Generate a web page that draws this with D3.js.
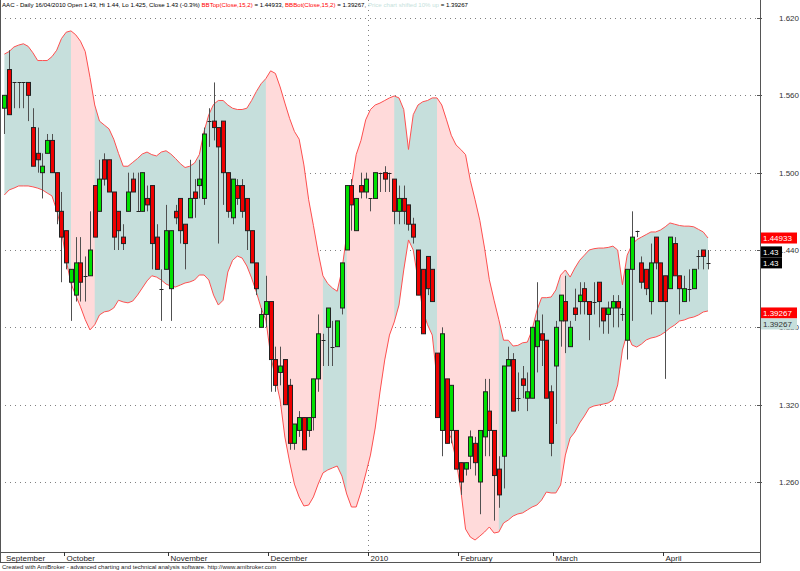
<!DOCTYPE html>
<html><head><meta charset="utf-8">
<script src="https://cdn.jsdelivr.net/npm/d3@7/dist/d3.min.js"></script>
<style>body{margin:0;background:#fff}svg{display:block}text{font-family:Arial,"Liberation Sans",sans-serif}</style>
</head><body><svg id="c" width="800" height="571"></svg>
<script>
const openP=[1.55,1.58,1.57,1.57,1.57,1.57,1.535,1.515,1.50,1.515,1.525,1.50,1.47,1.455,1.415,1.405,1.43,1.42,1.42,1.49,1.47,1.51,1.51,1.485,1.47,1.45,1.47,1.495,1.47,1.47,1.48,1.49,1.45,1.41,1.425,1.41,1.47,1.48,1.46,1.465,1.485,1.49,1.48,1.54,1.54,1.535,1.54,1.50,1.465,1.49,1.49,1.48,1.455,1.43,1.38,1.39,1.40,1.355,1.345,1.355,1.335,1.29,1.30,1.31,1.30,1.31,1.34,1.37,1.38,1.365,1.365,1.395,1.44,1.49,1.455,1.49,1.485,1.48,1.48,1.50,1.50,1.50,1.495,1.47,1.48,1.475,1.46,1.44,1.425,1.435,1.425,1.36,1.30,1.34,1.30,1.30,1.275,1.27,1.28,1.29,1.26,1.295,1.315,1.30,1.27,1.28,1.35,1.355,1.325,1.34,1.325,1.325,1.365,1.375,1.37,1.33,1.35,1.385,1.40,1.365,1.395,1.40,1.41,1.40,1.40,1.415,1.395,1.39,1.395,1.40,1.39,1.37,1.425,1.455,1.43,1.425,1.40,1.45,1.43,1.42,1.41,1.445,1.42,1.40,1.41,1.41,1.435,1.44,1.43];
const highP=[1.56,1.595,1.57,1.57,1.57,1.57,1.55,1.535,1.515,1.53,1.53,1.50,1.485,1.455,1.425,1.45,1.45,1.435,1.47,1.49,1.51,1.515,1.51,1.485,1.47,1.46,1.50,1.50,1.50,1.50,1.49,1.49,1.46,1.425,1.475,1.455,1.475,1.48,1.46,1.51,1.495,1.51,1.535,1.55,1.57,1.535,1.54,1.50,1.495,1.495,1.495,1.48,1.455,1.43,1.395,1.42,1.40,1.365,1.365,1.355,1.34,1.305,1.315,1.31,1.31,1.34,1.39,1.375,1.395,1.385,1.385,1.43,1.49,1.495,1.48,1.50,1.50,1.48,1.50,1.50,1.505,1.50,1.495,1.49,1.49,1.475,1.465,1.44,1.425,1.435,1.425,1.36,1.38,1.34,1.335,1.30,1.275,1.275,1.30,1.295,1.30,1.34,1.34,1.30,1.28,1.35,1.365,1.36,1.345,1.35,1.345,1.38,1.415,1.39,1.37,1.335,1.385,1.405,1.42,1.385,1.41,1.415,1.415,1.40,1.415,1.415,1.395,1.40,1.405,1.405,1.395,1.425,1.47,1.455,1.435,1.425,1.445,1.45,1.43,1.42,1.45,1.45,1.42,1.42,1.425,1.425,1.44,1.44,1.44];
const lowP=[1.53,1.545,1.55,1.55,1.55,1.54,1.505,1.50,1.48,1.515,1.50,1.46,1.415,1.425,1.385,1.40,1.40,1.40,1.42,1.45,1.47,1.49,1.485,1.44,1.44,1.44,1.47,1.485,1.47,1.47,1.47,1.425,1.425,1.385,1.425,1.385,1.46,1.445,1.425,1.465,1.465,1.48,1.475,1.52,1.525,1.445,1.475,1.465,1.46,1.475,1.465,1.44,1.43,1.405,1.38,1.38,1.33,1.33,1.335,1.32,1.285,1.285,1.295,1.285,1.295,1.30,1.33,1.35,1.35,1.35,1.365,1.39,1.44,1.455,1.455,1.48,1.48,1.47,1.48,1.485,1.485,1.485,1.46,1.46,1.46,1.455,1.445,1.405,1.375,1.405,1.40,1.31,1.28,1.29,1.29,1.27,1.25,1.265,1.27,1.265,1.235,1.28,1.28,1.23,1.24,1.255,1.35,1.315,1.315,1.325,1.315,1.325,1.345,1.35,1.325,1.28,1.305,1.365,1.36,1.365,1.385,1.39,1.39,1.37,1.39,1.38,1.375,1.375,1.38,1.38,1.385,1.355,1.385,1.45,1.41,1.405,1.39,1.425,1.40,1.34,1.41,1.42,1.39,1.40,1.40,1.41,1.425,1.425,1.425];
const closeP=[1.56,1.545,1.57,1.57,1.57,1.56,1.505,1.51,1.505,1.525,1.50,1.47,1.45,1.43,1.425,1.43,1.415,1.42,1.44,1.45,1.495,1.495,1.485,1.45,1.455,1.445,1.485,1.485,1.47,1.50,1.475,1.445,1.425,1.41,1.455,1.455,1.465,1.455,1.445,1.48,1.48,1.495,1.53,1.54,1.535,1.52,1.50,1.47,1.495,1.48,1.47,1.455,1.43,1.41,1.39,1.40,1.355,1.335,1.35,1.32,1.29,1.305,1.31,1.285,1.31,1.34,1.375,1.37,1.395,1.365,1.385,1.43,1.49,1.475,1.48,1.485,1.495,1.48,1.50,1.50,1.495,1.50,1.47,1.48,1.47,1.46,1.45,1.405,1.375,1.41,1.40,1.31,1.375,1.29,1.335,1.27,1.26,1.275,1.295,1.275,1.30,1.33,1.30,1.265,1.25,1.35,1.355,1.315,1.325,1.335,1.33,1.38,1.385,1.37,1.325,1.29,1.38,1.405,1.385,1.38,1.39,1.405,1.40,1.39,1.40,1.40,1.385,1.395,1.40,1.395,1.39,1.425,1.45,1.455,1.415,1.41,1.43,1.43,1.40,1.40,1.45,1.42,1.41,1.41,1.41,1.425,1.435,1.435,1.43];
const bbTop=[1.592,1.594,1.5975,1.599,1.600,1.598,1.593,1.587,1.587,1.587,1.590,1.595,1.604,1.609,1.610,1.607,1.602,1.594,1.574,1.5525,1.540,1.537,1.534,1.526,1.515,1.505,1.505,1.508,1.511,1.5145,1.516,1.514,1.513,1.516,1.517,1.5145,1.511,1.507,1.504,1.505,1.5075,1.514,1.532,1.545,1.553,1.556,1.556,1.5525,1.550,1.549,1.549,1.550,1.556,1.563,1.569,1.573,1.579,1.577,1.5665,1.554,1.542,1.532,1.526,1.506,1.479,1.459,1.438,1.420,1.414,1.4105,1.408,1.4245,1.452,1.490,1.514,1.525,1.541,1.549,1.5525,1.554,1.556,1.558,1.5595,1.558,1.549,1.518,1.545,1.5525,1.555,1.556,1.558,1.558,1.5525,1.541,1.529,1.5215,1.518,1.514,1.494,1.479,1.463,1.4415,1.417,1.401,1.386,1.370,1.370,1.3655,1.366,1.368,1.3685,1.378,1.393,1.403,1.403,1.4035,1.409,1.4205,1.4245,1.419,1.426,1.432,1.436,1.440,1.441,1.4415,1.4415,1.442,1.443,1.440,1.413,1.436,1.444,1.448,1.450,1.452,1.454,1.454,1.4555,1.458,1.461,1.460,1.459,1.4585,1.4585,1.458,1.456,1.454,1.4493];
const bbBot=[1.4827,1.4866,1.488,1.4897,1.4897,1.4897,1.489,1.488,1.4866,1.4842,1.482,1.471,1.4555,1.432,1.414,1.405,1.396,1.386,1.378,1.382,1.3896,1.392,1.3927,1.395,1.401,1.3997,1.399,1.4004,1.405,1.4105,1.416,1.420,1.419,1.4167,1.4136,1.412,1.4113,1.4128,1.4144,1.4152,1.4167,1.4206,1.4206,1.4167,1.405,1.3973,1.401,1.4229,1.432,1.4353,1.4338,1.4276,1.4183,1.4074,1.395,1.3857,1.3585,1.3407,1.3236,1.2949,1.2755,1.2584,1.2484,1.2414,1.2421,1.2484,1.2584,1.267,1.2693,1.2709,1.2724,1.2646,1.2507,1.2406,1.2406,1.2522,1.2662,1.2809,1.3019,1.3298,1.3547,1.374,1.3841,1.3973,1.4245,1.4478,1.44,1.4167,1.3934,1.382,1.374,1.3391,1.3081,1.3003,1.2941,1.2771,1.2538,1.2235,1.2173,1.215,1.218,1.2212,1.2251,1.2204,1.2212,1.2282,1.2305,1.2336,1.2352,1.236,1.2383,1.2406,1.2421,1.246,1.2522,1.2515,1.2515,1.2577,1.2809,1.2941,1.2988,1.3058,1.3112,1.3174,1.319,1.3197,1.3205,1.3213,1.3236,1.3353,1.3624,1.3756,1.3663,1.3647,1.367,1.3702,1.3717,1.3725,1.374,1.3764,1.3795,1.3818,1.3849,1.3857,1.3872,1.388,1.3896,1.3919,1.3927];
const pinkRanges=[[14,19],[55,67],[72,82],[91,104],[117,118]];
const monthLabels=["September","October","November","December","2010","February","March","April"];
const monthStart=[0,13,35,56,77,96,116,139];
const yTicks=[1.26,1.32,1.38,1.44,1.50,1.56,1.62];

const svg=d3.select("#c");
svg.append("rect").attr("width",800).attr("height",571).attr("fill","#fff");
const R=760,B=552;
const n=closeP.length;
const x=d3.scaleLinear().domain([0,n-1]).range([4.4,708]);
const y=d3.scaleLinear().domain([1.44-302/1288.9,1.44+250/1288.9]).range([B,0]);
const bars=d3.range(n).map(i=>({i,o:openP[i],h:highP[i],l:lowP[i],c:closeP[i],u:bbTop[i],d:bbBot[i]}));

// grid
svg.append("g").selectAll("line").data(yTicks).join("line")
 .attr("x1",0).attr("x2",R-3).attr("y1",d=>Math.round(y(d))+0.5).attr("y2",d=>Math.round(y(d))+0.5)
 .attr("stroke","#808080").attr("stroke-dasharray","1,4");
const yearX=Math.round(x(monthStart[4])-2)+0.5;
svg.append("line").attr("x1",yearX).attr("x2",yearX).attr("y1",0).attr("y2",B)
 .attr("stroke","#808080").attr("stroke-dasharray","1,4");

// bands
const area=d3.area().x(d=>x(d.i)).y0(d=>y(d.d)).y1(d=>y(d.u));
svg.append("path").datum(bars).attr("d",area).attr("fill","#c6dfdc");
const defs=svg.append("defs");
const cp=defs.append("clipPath").attr("id","pk");
cp.selectAll("rect").data(pinkRanges).join("rect")
 .attr("x",d=>x(d[0])).attr("width",d=>x(d[1])-x(d[0])).attr("y",0).attr("height",B);
svg.append("path").datum(bars).attr("d",area).attr("fill","#ffdada").attr("clip-path","url(#pk)");
svg.append("path").datum(bars).attr("d",d3.line().x(d=>x(d.i)).y(d=>y(d.u))).attr("fill","none").attr("stroke","#ff5050").attr("stroke-width",1);
svg.append("path").datum(bars).attr("d",d3.line().x(d=>x(d.i)).y(d=>y(d.d))).attr("fill","none").attr("stroke","#ff5050").attr("stroke-width",1);

// candles
const cg=svg.append("g");
cg.selectAll("line.w").data(bars).join("line").attr("class","w")
 .attr("x1",d=>Math.round(x(d.i))+0.5).attr("x2",d=>Math.round(x(d.i))+0.5)
 .attr("y1",d=>y(d.h)).attr("y2",d=>y(d.l)).attr("stroke","#505050").attr("stroke-width",1);
cg.selectAll("rect.b").data(bars.filter(d=>d.o!==d.c)).join("rect").attr("class","b")
 .attr("x",d=>Math.round(x(d.i))-1.5).attr("width",4)
 .attr("y",d=>y(Math.max(d.o,d.c))).attr("height",d=>Math.max(1,y(Math.min(d.o,d.c))-y(Math.max(d.o,d.c))))
 .attr("fill",d=>d.c>d.o?"#00e000":"#ee0000").attr("stroke","#222").attr("stroke-width",1);
cg.selectAll("line.dj").data(bars.filter(d=>d.o===d.c)).join("line").attr("class","dj")
 .attr("x1",d=>Math.round(x(d.i))-1.5).attr("x2",d=>Math.round(x(d.i))+2.5)
 .attr("y1",d=>Math.round(y(d.c))+0.5).attr("y2",d=>Math.round(y(d.c))+0.5).attr("stroke","#222");

// frame
svg.append("line").attr("x1",0.5).attr("x2",0.5).attr("y1",0).attr("y2",563).attr("stroke","#555");
svg.append("line").attr("x1",R+0.5).attr("x2",R+0.5).attr("y1",0).attr("y2",563).attr("stroke","#555");
svg.append("line").attr("x1",0).attr("x2",R).attr("y1",B+0.5).attr("y2",B+0.5).attr("stroke","#555");
svg.append("line").attr("x1",0).attr("x2",R).attr("y1",562.5).attr("y2",562.5).attr("stroke","#555");

// y axis
const ya=svg.append("g").attr("transform",`translate(${R},0)`);
ya.selectAll("line").data(yTicks).join("line").attr("x1",-3).attr("x2",2)
 .attr("y1",d=>Math.round(y(d))+0.5).attr("y2",d=>Math.round(y(d))+0.5).attr("stroke","#555");
ya.selectAll("text").data(yTicks).join("text").attr("x",19).attr("y",d=>y(d)+3)
 .attr("font-size",8).attr("fill","#333").text(d=>d.toFixed(3));

// value labels
const lab=[{v:bbTop[n-1],t:"1.44933",bg:"#ff0000",fg:"#fff",dy:0},
 {v:closeP[n-1],t:"1.43",bg:"#000",fg:"#fff",dy:-11},
 {v:closeP[n-1],t:"1.43",bg:"#000",fg:"#fff",dy:0},
 {v:bbBot[n-1],t:"1.39267",bg:"#ff0000",fg:"#fff",dy:2},
 {v:bbBot[n-1],t:"1.39267",bg:"#c6dfdc",fg:"#333",dy:13}];
const lg=svg.append("g");
lab.forEach(d=>{
 const w=d.t.length>4?36:21, cy=y(d.v)+d.dy;
 lg.append("rect").attr("x",R+1).attr("y",cy-5.5).attr("width",w).attr("height",11).attr("fill",d.bg);
 lg.append("text").attr("x",R+3).attr("y",cy+3).attr("font-size",8).attr("fill",d.fg).text(d.t);
});

// x axis
const xa=svg.append("g");
monthStart.forEach((s,k)=>{
 const tx=Math.round(x(s)-2.4)+0.5;
 if(k>0) xa.append("line").attr("x1",tx).attr("x2",tx).attr("y1",B).attr("y2",B+4).attr("stroke","#333");
 xa.append("text").attr("x",k===0?6:tx+2).attr("y",561).attr("font-size",8).attr("fill","#222").text(monthLabels[k]);
});

// header
const hd=svg.append("text").attr("x",2).attr("y",7).attr("font-size",6.1).attr("fill","#000");
hd.append("tspan").text("AAC - Daily 16/04/2010 Open 1.43, Hi 1.44, Lo 1.425, Close 1.43 (-0.3%) ");
hd.append("tspan").attr("fill","#ff0000").text("BBTop(Close,15,2)");
hd.append("tspan").text(" = 1.44933, ");
hd.append("tspan").attr("fill","#ff0000").text("BBBot(Close,15,2)");
hd.append("tspan").text(" = 1.39267, ");
hd.append("tspan").attr("fill","#c6dfdc").text("Price chart shifted 10% up");
hd.append("tspan").text(" = 1.39267");

svg.append("text").attr("x",2).attr("y",569).attr("font-size",6).attr("fill","#222")
 .text("Created with AmiBroker - advanced charting and technical analysis software. http://www.amibroker.com");
</script></body></html>
